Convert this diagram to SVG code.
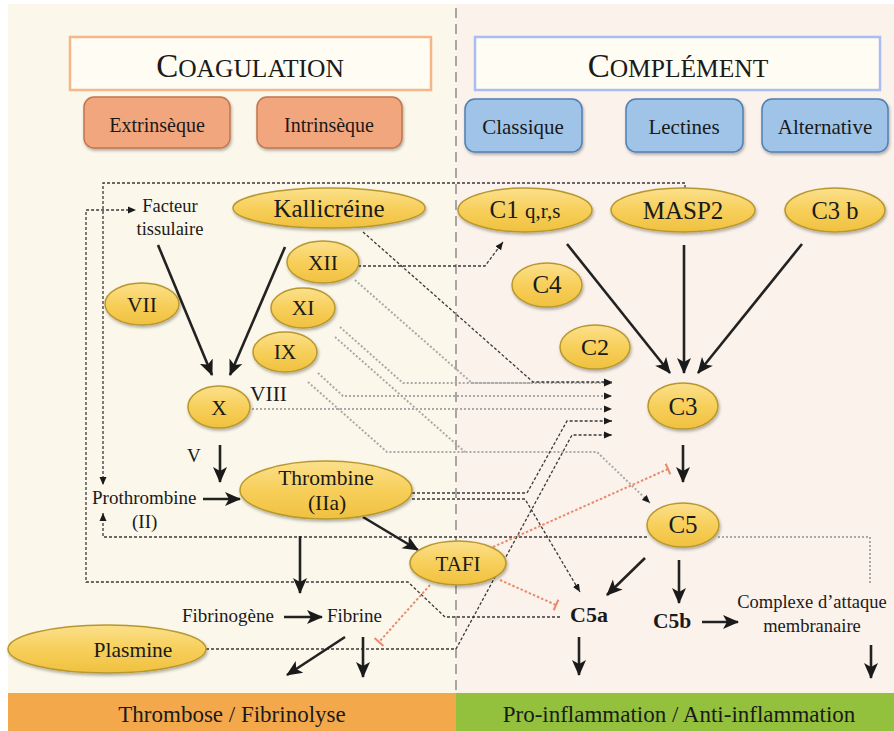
<svg xmlns="http://www.w3.org/2000/svg" width="894" height="731" viewBox="0 0 894 731">
  <style>
    text { font-family: "Liberation Serif", "Times New Roman", serif; fill: #1a1a1a; }
    .ell { fill: url(#yellow); stroke: #b8982e; stroke-width: 1.5; filter: url(#shadow); }
    .orange { fill: #f2a67e; stroke: #c2764e; stroke-width: 1.5; filter: url(#shadow); }
    .blue { fill: #9fc4e7; stroke: #4f7fb5; stroke-width: 1.5; filter: url(#shadow); }
    .solid { fill: none; stroke: #222; stroke-width: 2.6; marker-end: url(#arrow); }
    .dark { fill: none; stroke: #3a3a3a; stroke-width: 1.3; stroke-dasharray: 3 2; }
    .light { fill: none; stroke: #a9a9a9; stroke-width: 2; stroke-dasharray: 2 2; }
    .red { fill: none; stroke: #ea8a6c; stroke-width: 2; stroke-dasharray: 2.5 2; marker-end: url(#tee); }
    .darr { marker-end: url(#small); }
    .n21 { font-size: 21px; }
    .c { text-anchor: middle; }
  </style>
  <defs>
    <linearGradient id="yellow" x1="0" y1="0" x2="0" y2="1">
      <stop offset="0" stop-color="#fbe08c"/>
      <stop offset="0.5" stop-color="#f7cf5a"/>
      <stop offset="1" stop-color="#f0c140"/>
    </linearGradient>
    <filter id="shadow" x="-20%" y="-20%" width="140%" height="150%">
      <feDropShadow dx="1" dy="2" stdDeviation="1.5" flood-color="#000" flood-opacity="0.3"/>
    </filter>
    <marker id="arrow" markerUnits="userSpaceOnUse" markerWidth="18" markerHeight="16" refX="15" refY="8" orient="auto">
      <path d="M0,1 L16,8 L0,15 L4,8 z" fill="#1a1a1a"/>
    </marker>
    <marker id="small" markerUnits="userSpaceOnUse" markerWidth="9" markerHeight="8" refX="8" refY="4" orient="auto">
      <path d="M0,0.5 L8,4 L0,7.5 z" fill="#1a1a1a"/>
    </marker>
    <marker id="tee" markerUnits="userSpaceOnUse" markerWidth="4" markerHeight="12" refX="2" refY="6" orient="auto">
      <path d="M2,0 L2,12" stroke="#ea8a6c" stroke-width="2"/>
    </marker>
  </defs>

  <!-- panels -->
  <rect x="0" y="0" width="894" height="731" fill="#ffffff"/>
  <rect x="8" y="4" width="448" height="690" fill="#fbf7ea"/>
  <rect x="456" y="4" width="438" height="690" fill="#fbf2eb"/>
  <line x1="456" y1="8" x2="456" y2="694" stroke="#a6a6a6" stroke-width="2" stroke-dasharray="10 6"/>

  <!-- bottom bands -->
  <g id="band-thrombose">
    <rect x="8" y="693" width="448" height="38" fill="#f3a94b"/>
    <text x="232" y="722" class="c" font-size="23">Thrombose / Fibrinolyse</text>
  </g>
  <g id="band-inflammation">
    <rect x="456" y="693" width="438" height="38" fill="#93c03d"/>
    <text x="679" y="722" class="c" font-size="23">Pro-inflammation  / Anti-inflammation</text>
  </g>

  <!-- headers -->
  <g id="coagulation">
    <rect x="70" y="37" width="361" height="53" fill="#fffdf3" stroke="#f5b68a" stroke-width="2.5"/>
    <text x="250" y="77" class="c" font-size="25.5"><tspan font-size="33">C</tspan>OAGULATION</text>
  </g>
  <g id="complement">
    <rect x="475" y="37" width="405" height="53" fill="#fffdf3" stroke="#a9bdf0" stroke-width="2.5"/>
    <text x="678" y="77" class="c" font-size="25.5"><tspan font-size="33">C</tspan>OMPLÉMENT</text>
  </g>
  <g id="extrinseque">
    <rect x="84" y="97" width="146" height="51" rx="10" class="orange"/>
    <text x="157" y="132" class="c" font-size="20">Extrinsèque</text>
  </g>
  <g id="intrinseque">
    <rect x="257" y="97" width="145" height="51" rx="10" class="orange"/>
    <text x="329" y="132" class="c" font-size="20">Intrinsèque</text>
  </g>
  <g id="classique">
    <rect x="465" y="99" width="117" height="53" rx="10" class="blue"/>
    <text x="523" y="134" class="c n21">Classique</text>
  </g>
  <g id="lectines">
    <rect x="626" y="99" width="117" height="53" rx="10" class="blue"/>
    <text x="684" y="134" class="c n21">Lectines</text>
  </g>
  <g id="alternative">
    <rect x="762" y="99" width="126" height="53" rx="10" class="blue"/>
    <text x="825" y="134" class="c n21">Alternative</text>
  </g>

  <!-- connectors -->
  <g id="connectors">
    <!-- regulation loops (dark dashed) -->
    <path class="dark darr" d="M685,188 L685,183 L103,183 L103,485"/>
    <path class="dark darr" d="M560,617 L445,617 L408,582 L86,582 L86,210 L136,210"/>
    <path class="dark darr" d="M647,537 L103,537 L103,513"/>
    <path class="dark darr" d="M358,266 L485,266 L503,242"/>
    <!-- contact-phase links towards C3 (light dotted) -->
    <path class="light" d="M355,280 L472,383 L533,383"/>
    <path class="light darr" d="M340,327 L403,383 L612,383"/>
    <path class="light darr" d="M318,373 L343,396 L612,396"/>
    <path class="light darr" d="M252,409 L612,409"/>
    <path class="light" d="M335,337 L465,452"/>
    <path class="light darr" d="M308,382 L387,452 L597,452 L650,503"/>
    <path class="light" d="M718,537 L870,537 L870,583"/>
    <!-- protease links (dark dashed) -->
    <path class="dark darr" d="M363,232 L533,382 L612,382"/>
    <path class="dark darr" d="M412,493 L527,493 L567,421 L612,421"/>
    <path class="dark darr" d="M206,649 L456,649 L572,435 L612,435"/>
    <path class="dark darr" d="M412,499 L525,499 L580,592"/>
    <!-- TAFI inhibition -->
    <path class="red" d="M493,547 L668,469"/>
    <path class="red" d="M500,580 L556,605"/>
    <path class="red" d="M430,585 L379,642"/>
    <!-- cascade arrows -->
    <path class="solid" d="M158,245 L212,375"/>
    <path class="solid" d="M285,247 L230,375"/>
    <path class="solid" d="M567,244 L670,373"/>
    <path class="solid" d="M684,245 L684,373"/>
    <path class="solid" d="M802,244 L698,373"/>
    <path class="solid" d="M220,445 L220,482"/>
    <path class="solid" d="M203,499 L240,499"/>
    <path class="solid" d="M363,517 L418,550"/>
    <path class="solid" d="M300,536 L300,593"/>
    <path class="solid" d="M284,617 L322,617"/>
    <path class="solid" d="M345,637 L287,675"/>
    <path class="solid" d="M363,637 L363,677"/>
    <path class="solid" d="M683,445 L683,482"/>
    <path class="solid" d="M645,558 L607,595"/>
    <path class="solid" d="M679,560 L679,603"/>
    <path class="solid" d="M579,637 L579,675"/>
    <path class="solid" d="M702,622 L738,622"/>
    <path class="solid" d="M871,645 L871,678"/>
  </g>

  <!-- coagulation factors -->
  <g id="kallicreine">
    <ellipse cx="329" cy="208" rx="96" ry="20" class="ell"/>
    <text x="329" y="217" class="c" font-size="25">Kallicréine</text>
  </g>
  <g id="facteur-tissulaire">
    <text x="170" y="212" class="c" font-size="18.5">Facteur</text>
    <text x="170" y="235" class="c" font-size="18.5">tissulaire</text>
  </g>
  <g id="f-xii">
    <ellipse cx="323" cy="262" rx="36" ry="21" class="ell"/>
    <text x="323" y="270" class="c" font-size="21.5">XII</text>
  </g>
  <g id="f-vii">
    <ellipse cx="142" cy="304" rx="37" ry="21" class="ell"/>
    <text x="142" y="312" class="c" font-size="21.5">VII</text>
  </g>
  <g id="f-xi">
    <ellipse cx="303" cy="308" rx="32" ry="20" class="ell"/>
    <text x="303" y="315" class="c" font-size="21.5">XI</text>
  </g>
  <g id="f-ix">
    <ellipse cx="285" cy="352" rx="32" ry="20" class="ell"/>
    <text x="285" y="359" class="c" font-size="21.5">IX</text>
  </g>
  <g id="f-x">
    <ellipse cx="219" cy="407" rx="31" ry="21" class="ell"/>
    <text x="219" y="415" class="c" font-size="21.5">X</text>
  </g>
  <g id="f-viii">
    <text x="250" y="401" font-size="21.5">VIII</text>
  </g>
  <g id="f-v">
    <text x="187" y="462" font-size="19">V</text>
  </g>
  <g id="prothrombine">
    <text x="92" y="504" font-size="19">Prothrombine</text>
    <text x="132" y="528" font-size="19">(II)</text>
  </g>
  <g id="thrombine">
    <ellipse cx="326" cy="490" rx="86" ry="29" class="ell"/>
    <text x="326" y="485" class="c" font-size="21.5">Thrombine</text>
    <text x="327" y="510" class="c" font-size="21.5">(IIa)</text>
  </g>
  <g id="tafi">
    <ellipse cx="458" cy="563" rx="48" ry="22" class="ell"/>
    <text x="458" y="571" class="c" font-size="21">TAFI</text>
  </g>
  <g id="fibrinogene">
    <text x="182" y="622" font-size="19">Fibrinogène</text>
  </g>
  <g id="fibrine">
    <text x="327" y="622" font-size="19">Fibrine</text>
  </g>
  <g id="plasmine">
    <ellipse cx="107" cy="649" rx="99" ry="24" class="ell"/>
    <text x="133" y="657" class="c" font-size="21.5">Plasmine</text>
  </g>

  <!-- complement factors -->
  <g id="c1">
    <ellipse cx="525" cy="210" rx="67" ry="22" class="ell"/>
    <text x="525" y="218" class="c" font-size="25">C1 <tspan font-size="21">q,r,s</tspan></text>
  </g>
  <g id="masp2">
    <ellipse cx="683" cy="210" rx="72" ry="22" class="ell"/>
    <text x="683" y="219" class="c" font-size="25">MASP2</text>
  </g>
  <g id="c3b">
    <ellipse cx="835" cy="210" rx="50" ry="22" class="ell"/>
    <text x="835" y="219" class="c" font-size="24.5">C3 b</text>
  </g>
  <g id="c4">
    <ellipse cx="547" cy="285" rx="35" ry="22" class="ell"/>
    <text x="547" y="293" class="c" font-size="25">C4</text>
  </g>
  <g id="c2">
    <ellipse cx="595" cy="347" rx="35" ry="22" class="ell"/>
    <text x="595" y="355" class="c" font-size="24">C2</text>
  </g>
  <g id="c3">
    <ellipse cx="683" cy="406" rx="35" ry="23" class="ell"/>
    <text x="683" y="415" class="c" font-size="25">C3</text>
  </g>
  <g id="c5">
    <ellipse cx="683" cy="525" rx="36" ry="22" class="ell"/>
    <text x="683" y="533" class="c" font-size="25">C5</text>
  </g>
  <g id="c5a">
    <text x="570" y="622" font-size="22" font-weight="bold">C5a</text>
  </g>
  <g id="c5b">
    <text x="653" y="628" font-size="21.5" font-weight="bold">C5b</text>
  </g>
  <g id="cam">
    <text x="812" y="608" class="c" font-size="18.5">Complexe d’attaque</text>
    <text x="812" y="632" class="c" font-size="18.5">membranaire</text>
  </g>
</svg>
